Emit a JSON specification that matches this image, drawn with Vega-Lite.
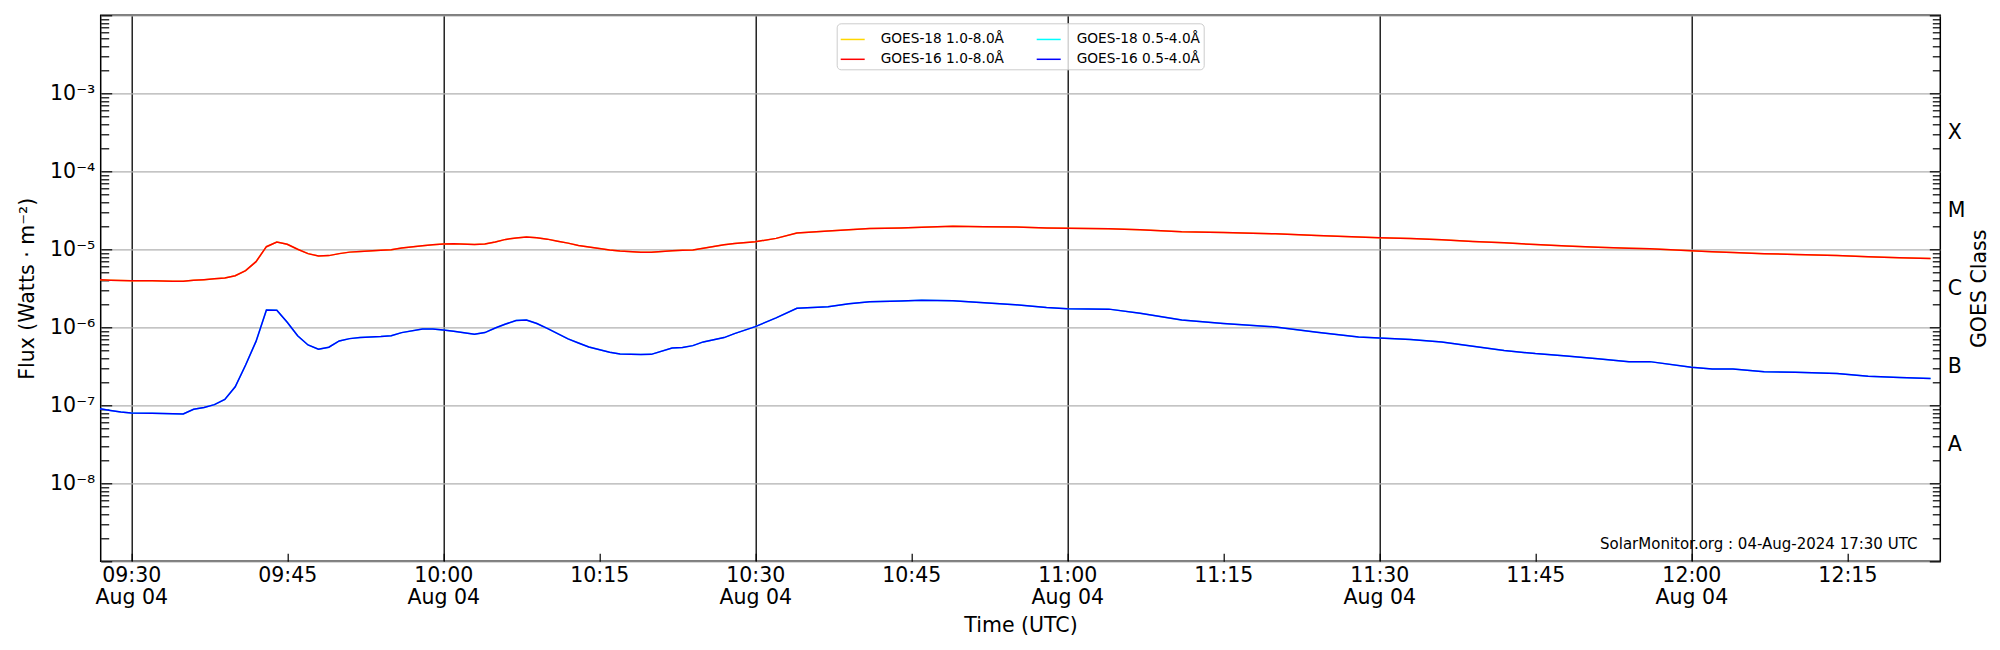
{
  "$schema": "https://vega.github.io/schema/vega-lite/v6.json",
  "width": 1839.6,
  "height": 546,
  "autosize": "none",
  "padding": {"left": 100.7, "top": 15.3, "right": 59.7, "bottom": 88.7},
  "config": {
    "font": "DejaVu Sans",
    "view": {"stroke": "black", "strokeWidth": 1.5},
    "axis": {
      "labelFontSize": 20.5, "titleFontSize": 20.5, "labelColor": "black", "titleColor": "black",
      "titleFontWeight": "normal", "domain": false, "tickColor": "black", "tickWidth": 1.2,
      "labelFlush": false, "labelOverlap": false
    }
  },
  "data": {
    "values": [
      {"t": "2024-08-04T09:27:00Z", "long": 4.08e-6, "short": 9.06e-8},
      {"t": "2024-08-04T09:28:00Z", "long": 4.02e-6, "short": 8.6e-8},
      {"t": "2024-08-04T09:29:00Z", "long": 3.98e-6, "short": 8.2e-8},
      {"t": "2024-08-04T09:30:00Z", "long": 3.96e-6, "short": 7.98e-8},
      {"t": "2024-08-04T09:32:00Z", "long": 3.95e-6, "short": 7.9e-8},
      {"t": "2024-08-04T09:34:00Z", "long": 3.9e-6, "short": 7.8e-8},
      {"t": "2024-08-04T09:35:00Z", "long": 3.89e-6, "short": 7.74e-8},
      {"t": "2024-08-04T09:36:00Z", "long": 4.0e-6, "short": 8.9e-8},
      {"t": "2024-08-04T09:37:00Z", "long": 4.08e-6, "short": 9.4e-8},
      {"t": "2024-08-04T09:38:00Z", "long": 4.18e-6, "short": 1.02e-7},
      {"t": "2024-08-04T09:39:00Z", "long": 4.3e-6, "short": 1.19e-7},
      {"t": "2024-08-04T09:40:00Z", "long": 4.59e-6, "short": 1.73e-7},
      {"t": "2024-08-04T09:41:00Z", "long": 5.32e-6, "short": 3.29e-7},
      {"t": "2024-08-04T09:42:00Z", "long": 6.95e-6, "short": 6.6e-7},
      {"t": "2024-08-04T09:43:00Z", "long": 1.08e-5, "short": 1.67e-6},
      {"t": "2024-08-04T09:44:00Z", "long": 1.24e-5, "short": 1.65e-6},
      {"t": "2024-08-04T09:45:00Z", "long": 1.16e-5, "short": 1.16e-6},
      {"t": "2024-08-04T09:46:00Z", "long": 1.0e-5, "short": 7.8e-7},
      {"t": "2024-08-04T09:47:00Z", "long": 8.8e-6, "short": 5.94e-7},
      {"t": "2024-08-04T09:48:00Z", "long": 8.2e-6, "short": 5.23e-7},
      {"t": "2024-08-04T09:49:00Z", "long": 8.3e-6, "short": 5.55e-7},
      {"t": "2024-08-04T09:50:00Z", "long": 8.8e-6, "short": 6.68e-7},
      {"t": "2024-08-04T09:51:00Z", "long": 9.2e-6, "short": 7.16e-7},
      {"t": "2024-08-04T09:52:00Z", "long": 9.4e-6, "short": 7.4e-7},
      {"t": "2024-08-04T09:54:00Z", "long": 9.7e-6, "short": 7.6e-7},
      {"t": "2024-08-04T09:55:00Z", "long": 9.9e-6, "short": 7.8e-7},
      {"t": "2024-08-04T09:56:00Z", "long": 1.04e-5, "short": 8.55e-7},
      {"t": "2024-08-04T09:58:00Z", "long": 1.11e-5, "short": 9.5e-7},
      {"t": "2024-08-04T09:59:00Z", "long": 1.14e-5, "short": 9.5e-7},
      {"t": "2024-08-04T10:00:00Z", "long": 1.17e-5, "short": 9.25e-7},
      {"t": "2024-08-04T10:01:00Z", "long": 1.18e-5, "short": 8.9e-7},
      {"t": "2024-08-04T10:03:00Z", "long": 1.15e-5, "short": 8.13e-7},
      {"t": "2024-08-04T10:04:00Z", "long": 1.17e-5, "short": 8.55e-7},
      {"t": "2024-08-04T10:05:00Z", "long": 1.24e-5, "short": 9.8e-7},
      {"t": "2024-08-04T10:06:00Z", "long": 1.34e-5, "short": 1.1e-6},
      {"t": "2024-08-04T10:07:00Z", "long": 1.4e-5, "short": 1.22e-6},
      {"t": "2024-08-04T10:08:00Z", "long": 1.44e-5, "short": 1.24e-6},
      {"t": "2024-08-04T10:09:00Z", "long": 1.41e-5, "short": 1.12e-6},
      {"t": "2024-08-04T10:10:00Z", "long": 1.35e-5, "short": 9.7e-7},
      {"t": "2024-08-04T10:11:00Z", "long": 1.27e-5, "short": 8.3e-7},
      {"t": "2024-08-04T10:12:00Z", "long": 1.2e-5, "short": 7.1e-7},
      {"t": "2024-08-04T10:13:00Z", "long": 1.12e-5, "short": 6.3e-7},
      {"t": "2024-08-04T10:14:00Z", "long": 1.07e-5, "short": 5.6e-7},
      {"t": "2024-08-04T10:16:00Z", "long": 9.8e-6, "short": 4.78e-7},
      {"t": "2024-08-04T10:17:00Z", "long": 9.5e-6, "short": 4.55e-7},
      {"t": "2024-08-04T10:19:00Z", "long": 9.2e-6, "short": 4.47e-7},
      {"t": "2024-08-04T10:20:00Z", "long": 9.2e-6, "short": 4.5e-7},
      {"t": "2024-08-04T10:22:00Z", "long": 9.6e-6, "short": 5.43e-7},
      {"t": "2024-08-04T10:23:00Z", "long": 9.7e-6, "short": 5.5e-7},
      {"t": "2024-08-04T10:24:00Z", "long": 9.8e-6, "short": 5.82e-7},
      {"t": "2024-08-04T10:25:00Z", "long": 1.03e-5, "short": 6.5e-7},
      {"t": "2024-08-04T10:27:00Z", "long": 1.14e-5, "short": 7.38e-7},
      {"t": "2024-08-04T10:28:00Z", "long": 1.19e-5, "short": 8.3e-7},
      {"t": "2024-08-04T10:30:00Z", "long": 1.25e-5, "short": 1.02e-6},
      {"t": "2024-08-04T10:32:00Z", "long": 1.38e-5, "short": 1.32e-6},
      {"t": "2024-08-04T10:34:00Z", "long": 1.62e-5, "short": 1.75e-6},
      {"t": "2024-08-04T10:37:00Z", "long": 1.72e-5, "short": 1.84e-6},
      {"t": "2024-08-04T10:39:00Z", "long": 1.78e-5, "short": 2.0e-6},
      {"t": "2024-08-04T10:41:00Z", "long": 1.85e-5, "short": 2.13e-6},
      {"t": "2024-08-04T10:44:00Z", "long": 1.88e-5, "short": 2.17e-6},
      {"t": "2024-08-04T10:46:00Z", "long": 1.92e-5, "short": 2.22e-6},
      {"t": "2024-08-04T10:49:00Z", "long": 1.97e-5, "short": 2.19e-6},
      {"t": "2024-08-04T10:52:00Z", "long": 1.95e-5, "short": 2.07e-6},
      {"t": "2024-08-04T10:55:00Z", "long": 1.93e-5, "short": 1.95e-6},
      {"t": "2024-08-04T10:58:00Z", "long": 1.88e-5, "short": 1.8e-6},
      {"t": "2024-08-04T11:00:00Z", "long": 1.86e-5, "short": 1.73e-6},
      {"t": "2024-08-04T11:04:00Z", "long": 1.84e-5, "short": 1.71e-6},
      {"t": "2024-08-04T11:07:00Z", "long": 1.78e-5, "short": 1.51e-6},
      {"t": "2024-08-04T11:11:00Z", "long": 1.68e-5, "short": 1.24e-6},
      {"t": "2024-08-04T11:15:00Z", "long": 1.64e-5, "short": 1.12e-6},
      {"t": "2024-08-04T11:20:00Z", "long": 1.58e-5, "short": 1.01e-6},
      {"t": "2024-08-04T11:24:00Z", "long": 1.5e-5, "short": 8.63e-7},
      {"t": "2024-08-04T11:28:00Z", "long": 1.44e-5, "short": 7.5e-7},
      {"t": "2024-08-04T11:30:00Z", "long": 1.41e-5, "short": 7.3e-7},
      {"t": "2024-08-04T11:33:00Z", "long": 1.38e-5, "short": 7.0e-7},
      {"t": "2024-08-04T11:36:00Z", "long": 1.33e-5, "short": 6.5e-7},
      {"t": "2024-08-04T11:39:00Z", "long": 1.26e-5, "short": 5.7e-7},
      {"t": "2024-08-04T11:42:00Z", "long": 1.21e-5, "short": 5.05e-7},
      {"t": "2024-08-04T11:45:00Z", "long": 1.15e-5, "short": 4.6e-7},
      {"t": "2024-08-04T11:48:00Z", "long": 1.1e-5, "short": 4.3e-7},
      {"t": "2024-08-04T11:51:00Z", "long": 1.06e-5, "short": 3.95e-7},
      {"t": "2024-08-04T11:54:00Z", "long": 1.03e-5, "short": 3.63e-7},
      {"t": "2024-08-04T11:56:00Z", "long": 1.02e-5, "short": 3.63e-7},
      {"t": "2024-08-04T12:00:00Z", "long": 9.6e-6, "short": 3.07e-7},
      {"t": "2024-08-04T12:02:00Z", "long": 9.3e-6, "short": 2.92e-7},
      {"t": "2024-08-04T12:04:00Z", "long": 9.1e-6, "short": 2.92e-7},
      {"t": "2024-08-04T12:07:00Z", "long": 8.8e-6, "short": 2.7e-7},
      {"t": "2024-08-04T12:10:00Z", "long": 8.6e-6, "short": 2.66e-7},
      {"t": "2024-08-04T12:14:00Z", "long": 8.3e-6, "short": 2.55e-7},
      {"t": "2024-08-04T12:17:00Z", "long": 8.0e-6, "short": 2.35e-7},
      {"t": "2024-08-04T12:20:00Z", "long": 7.8e-6, "short": 2.27e-7},
      {"t": "2024-08-04T12:23:00Z", "long": 7.6e-6, "short": 2.2e-7}
    ]
  },
  "layer": [
    {
      "layer": [
        {
          "mark": {"type": "line", "strokeWidth": 1.5},
          "encoding": {
            "x": {
              "field": "t", "type": "temporal",
              "scale": {
                "type": "utc",
                "domain": [
                  {"year": 2024, "month": 8, "date": 4, "hours": 9, "minutes": 27, "seconds": 4, "utc": true},
                  {"year": 2024, "month": 8, "date": 4, "hours": 12, "minutes": 23, "seconds": 56, "utc": true}
                ]
              },
              "axis": {
                "values": [
                  {"year": 2024, "month": 8, "date": 4, "hours": 9, "minutes": 30, "utc": true},
                  {"year": 2024, "month": 8, "date": 4, "hours": 9, "minutes": 45, "utc": true},
                  {"year": 2024, "month": 8, "date": 4, "hours": 10, "minutes": 0, "utc": true},
                  {"year": 2024, "month": 8, "date": 4, "hours": 10, "minutes": 15, "utc": true},
                  {"year": 2024, "month": 8, "date": 4, "hours": 10, "minutes": 30, "utc": true},
                  {"year": 2024, "month": 8, "date": 4, "hours": 10, "minutes": 45, "utc": true},
                  {"year": 2024, "month": 8, "date": 4, "hours": 11, "minutes": 0, "utc": true},
                  {"year": 2024, "month": 8, "date": 4, "hours": 11, "minutes": 15, "utc": true},
                  {"year": 2024, "month": 8, "date": 4, "hours": 11, "minutes": 30, "utc": true},
                  {"year": 2024, "month": 8, "date": 4, "hours": 11, "minutes": 45, "utc": true},
                  {"year": 2024, "month": 8, "date": 4, "hours": 12, "minutes": 0, "utc": true},
                  {"year": 2024, "month": 8, "date": 4, "hours": 12, "minutes": 15, "utc": true}
                ],
                "labelExpr": "utcminutes(datum.value) % 30 === 0 ? [utcFormat(datum.value, '%H:%M'), utcFormat(datum.value, '%b %d')] : utcFormat(datum.value, '%H:%M')",
                "labelAngle": 0,
                "labelLineHeight": 22.5,
                "labelPadding": 12,
                "tickSize": -8,
                "grid": true,
                "gridColor": "black",
                "gridWidth": 1.3,
                "gridOpacity": {"condition": {"test": "utcminutes(datum.value) % 30 === 0", "value": 1}, "value": 0},
                "title": "Time (UTC)",
                "titlePadding": 7
              }
            },
            "y": {
              "field": "long", "type": "quantitative",
              "scale": {"type": "log", "domain": [1e-9, 1e-2], "nice": false},
              "axis": {
                "orient": "left",
                "values": [1e-9, 2e-9, 3e-9, 4e-9, 5e-9, 6e-9, 7e-9, 8e-9, 9e-9,
                           1e-8, 2e-8, 3e-8, 4e-8, 5e-8, 6e-8, 7e-8, 8e-8, 9e-8,
                           1e-7, 2e-7, 3e-7, 4e-7, 5e-7, 6e-7, 7e-7, 8e-7, 9e-7,
                           1e-6, 2e-6, 3e-6, 4e-6, 5e-6, 6e-6, 7e-6, 8e-6, 9e-6,
                           1e-5, 2e-5, 3e-5, 4e-5, 5e-5, 6e-5, 7e-5, 8e-5, 9e-5,
                           1e-4, 2e-4, 3e-4, 4e-4, 5e-4, 6e-4, 7e-4, 8e-4, 9e-4,
                           1e-3, 2e-3, 3e-3, 4e-3, 5e-3, 6e-3, 7e-3, 8e-3, 9e-3, 1e-2],
                "labelExpr": "abs(log(datum.value)/LN10 - round(log(datum.value)/LN10)) < 0.01 && datum.value > 5e-9 && datum.value < 5e-3 ? '10⁻' + ['⁰','¹','²','³','⁴','⁵','⁶','⁷','⁸','⁹'][-round(log(datum.value)/LN10)] : ''",
                "grid": true,
                "gridColor": "#b0b0b0",
                "gridWidth": 1.3,
                "gridOpacity": {"condition": {"test": "abs(log(datum.value)/LN10 - round(log(datum.value)/LN10)) < 0.01", "value": 1}, "value": 0},
                "tickSize": {"condition": {"test": "abs(log(datum.value)/LN10 - round(log(datum.value)/LN10)) < 0.01", "value": -11}, "value": -8},
                "labelPadding": 17,
                "title": "Flux (Watts · m⁻²)",
                "titlePadding": 12
              }
            },
            "color": {
              "datum": "GOES-18 1.0-8.0Å",
              "scale": {
                "domain": ["GOES-18 1.0-8.0Å", "GOES-16 1.0-8.0Å", "GOES-18 0.5-4.0Å", "GOES-16 0.5-4.0Å"],
                "range": ["#ffd700", "#ff0000", "#00ffff", "#0000ff"]
              },
              "legend": {
                "orient": "none", "legendX": 736, "legendY": 8, "columns": 2, "title": null,
                "symbolType": "stroke", "symbolSize": 576, "symbolStrokeWidth": 1.5,
                "labelFontSize": 13.7, "labelColor": "black", "labelOffset": 15,
                "columnPadding": 29, "rowPadding": 0, "padding": 3,
                "strokeColor": "#cccccc", "fillColor": "rgba(255,255,255,0.8)", "cornerRadius": 4
              }
            }
          }
        },
        {
          "mark": {"type": "line", "strokeWidth": 1.5},
          "encoding": {
            "x": {"field": "t", "type": "temporal"},
            "y": {"field": "short", "type": "quantitative"},
            "color": {"datum": "GOES-18 0.5-4.0Å"}
          }
        },
        {
          "mark": {"type": "line", "strokeWidth": 1.5},
          "encoding": {
            "x": {"field": "t", "type": "temporal"},
            "y": {"field": "long", "type": "quantitative"},
            "color": {"datum": "GOES-16 1.0-8.0Å"}
          }
        },
        {
          "data": {"values": [{"note": "SolarMonitor.org : 04-Aug-2024 17:30 UTC"}]},
          "mark": {"type": "text", "align": "right", "baseline": "middle", "fontSize": 15, "color": "black"},
          "encoding": {
            "x": {"datum": {"year": 2024, "month": 8, "date": 4, "hours": 12, "minutes": 21, "seconds": 44, "utc": true}, "type": "temporal"},
            "y": {"datum": 1.69e-9, "type": "quantitative"},
            "text": {"field": "note"}
          }
        }
      ]
    },
    {
      "mark": {"type": "line", "strokeWidth": 1.5},
      "encoding": {
        "x": {"field": "t", "type": "temporal"},
        "y": {
          "field": "short", "type": "quantitative",
          "scale": {"type": "log", "domain": [1e-9, 1e-2], "nice": false},
          "axis": {
            "orient": "right",
            "values": [1e-9, 2e-9, 3e-9, 4e-9, 5e-9, 6e-9, 7e-9, 8e-9, 9e-9,
                       1e-8, 2e-8, 3e-8, 3.16228e-8, 4e-8, 5e-8, 6e-8, 7e-8, 8e-8, 9e-8,
                       1e-7, 2e-7, 3e-7, 3.16228e-7, 4e-7, 5e-7, 6e-7, 7e-7, 8e-7, 9e-7,
                       1e-6, 2e-6, 3e-6, 3.16228e-6, 4e-6, 5e-6, 6e-6, 7e-6, 8e-6, 9e-6,
                       1e-5, 2e-5, 3e-5, 3.16228e-5, 4e-5, 5e-5, 6e-5, 7e-5, 8e-5, 9e-5,
                       1e-4, 2e-4, 3e-4, 3.16228e-4, 4e-4, 5e-4, 6e-4, 7e-4, 8e-4, 9e-4,
                       1e-3, 2e-3, 3e-3, 4e-3, 5e-3, 6e-3, 7e-3, 8e-3, 9e-3, 1e-2],
            "labelExpr": "abs(log(datum.value)/LN10 - floor(log(datum.value)/LN10) - 0.5) < 0.005 ? ['A','B','C','M','X'][floor(log(datum.value)/LN10) + 8] : ''",
            "grid": false,
            "tickSize": {"condition": {"test": "abs(log(datum.value)/LN10 - round(log(datum.value)/LN10)) < 0.01", "value": -11}, "value": -8},
            "tickOpacity": {"condition": {"test": "abs(log(datum.value)/LN10 - floor(log(datum.value)/LN10) - 0.5) < 0.005", "value": 0}, "value": 1},
            "labelPadding": 15,
            "title": "GOES Class",
            "titleAngle": 270,
            "titleBaseline": "top",
            "titlePadding": 5
          }
        },
        "color": {"datum": "GOES-16 0.5-4.0Å"}
      }
    }
  ],
  "resolve": {"scale": {"y": "independent"}}
}
